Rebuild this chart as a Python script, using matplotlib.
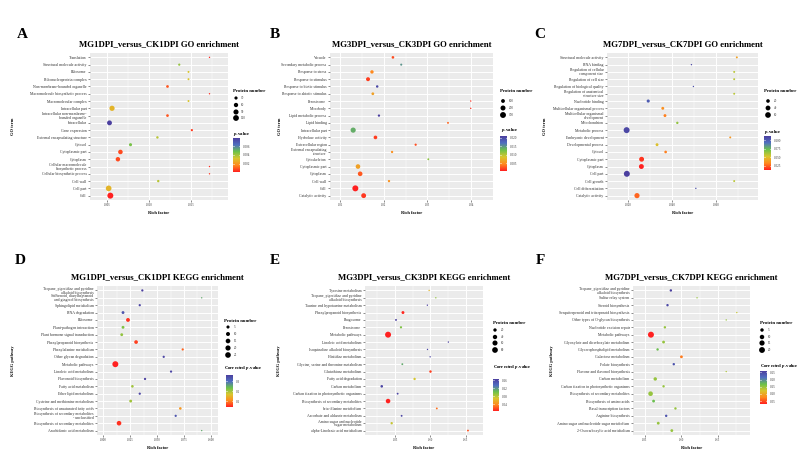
import numpy as np
import matplotlib.pyplot as plt
from matplotlib.colors import LinearSegmentedColormap, Normalize
from matplotlib.cm import ScalarMappable

plt.rcParams['font.family'] = ['Liberation Serif', 'DejaVu Serif']
plt.rcParams['mathtext.fontset'] = 'custom'
plt.rcParams['mathtext.it'] = 'Liberation Serif:italic:bold'
plt.rcParams['mathtext.rm'] = 'Liberation Serif:bold'

# ---- A: MG1DPI vs CK1DPI GO (listed top to bottom) ----
terms_a = ['Translation', 'Structural molecule activity', 'Ribosome', 'Ribonucleoprotein complex',
           'Non-membrane-bounded organelle', 'Macromolecule biosynthetic process',
           'Macromolecular complex', 'Intracellular part',
           'Intracellular non-membrane-\nbounded organelle', 'Intracellular', 'Gene expression',
           'External encapsulating structure', 'Cytosol', 'Cytoplasmic part', 'Cytoplasm',
           'Cellular macromolecule\nbiosynthetic process', 'Cellular biosynthetic process',
           'Cell wall', 'Cell part', 'Cell']
rich_a = [0.0172, 0.0136, 0.0147, 0.0147, 0.0122, 0.0172, 0.0147, 0.0056, 0.0122, 0.0053,
          0.0151, 0.0110, 0.0078, 0.0066, 0.0063, 0.0172, 0.0172, 0.0111, 0.0052, 0.0054]
count_a = [12, 16, 14, 14, 22, 12, 14, 95, 22, 80, 16, 18, 28, 68, 65, 12, 12, 18, 115, 130]
pval_a = [0.0003, 0.0042, 0.0032, 0.0032, 0.0010, 0.0004, 0.0032, 0.0028, 0.0010, 0.0078,
          0.0006, 0.0037, 0.0046, 0.0008, 0.0008, 0.0004, 0.0005, 0.0037, 0.0028, 0.0002]

# ---- B: MG3DPI vs CK3DPI GO ----
terms_b = ['Vacuole', 'Secondary metabolic process', 'Response to stress', 'Response to stimulus',
           'Response to biotic stimulus', 'Response to abiotic stimulus', 'Peroxisome',
           'Microbody', 'Lipid metabolic process', 'Lipid binding', 'Intracellular part',
           'Hydrolase activity', 'Extracellular region', 'External encapsulating\nstructure',
           'Cytoskeleton', 'Cytoplasmic part', 'Cytoplasm', 'Cell wall', 'Cell',
           'Catalytic activity']
rich_b = [0.0221, 0.0240, 0.0173, 0.0164, 0.0185, 0.0175, 0.0399, 0.0399, 0.0189, 0.0347,
          0.0130, 0.0181, 0.0273, 0.0219, 0.0302, 0.0141, 0.0146, 0.0212, 0.0135, 0.0154]
count_b = [40, 25, 75, 110, 35, 45, 18, 18, 30, 22, 220, 90, 28, 30, 22, 160, 165, 30, 310, 185]
pval_b = [0.0020, 0.0150, 0.0045, 0.0015, 0.0200, 0.0060, 0.0010, 0.0010, 0.0210, 0.0030,
          0.0138, 0.0015, 0.0020, 0.0050, 0.0115, 0.0060, 0.0025, 0.0050, 0.0003, 0.0012]

# ---- C: MG7DPI vs CK7DPI GO ----
terms_c = ['Structural molecule activity', 'RNA binding', 'Regulation of cellular\ncomponent size',
           'Regulation of cell size', 'Regulation of biological quality',
           'Regulation of anatomical\nstructure size', 'Nucleotide binding',
           'Multicellular organismal process', 'Multicellular organismal\ndevelopment',
           'Mitochondrion', 'Metabolic process', 'Embryonic development',
           'Developmental process', 'Cytosol', 'Cytoplasmic part', 'Cytoplasm', 'Cell part',
           'Cell growth', 'Cell differentiation', 'Catalytic activity']
rich_c = [0.0694, 0.0488, 0.0682, 0.0682, 0.0497, 0.0682, 0.0292, 0.0358, 0.0368, 0.0424,
          0.0194, 0.0664, 0.0332, 0.0371, 0.0262, 0.0261, 0.0195, 0.0682, 0.0508, 0.0241]
count_c = [6, 5, 6, 6, 5, 6, 14, 12, 12, 8, 68, 6, 12, 10, 42, 42, 68, 6, 5, 48]
pval_c = [0.040, 0.108, 0.058, 0.058, 0.105, 0.058, 0.100, 0.034, 0.030, 0.065,
          0.108, 0.036, 0.050, 0.030, 0.016, 0.012, 0.112, 0.058, 0.105, 0.025]

# ---- D: MG1DPI vs CK1DPI KEGG ----
terms_d = ['Tropane, piperidine and pyridine\nalkaloid biosynthesis',
           'Stilbenoid, diarylheptanoid\nand gingerol biosynthesis', 'Sphingolipid metabolism',
           'RNA degradation', 'Ribosome', 'Plant-pathogen interaction',
           'Plant hormone signal transduction', 'Phenylpropanoid biosynthesis',
           'Phenylalanine metabolism', 'Other glycan degradation', 'Metabolic pathways',
           'Linoleic acid metabolism', 'Flavonoid biosynthesis', 'Fatty acid metabolism',
           'Ether lipid metabolism', 'Cysteine and methionine metabolism',
           'Biosynthesis of unsaturated fatty acids',
           'Biosynthesis of secondary metabolites\n- unclassified',
           'Biosynthesis of secondary metabolites', 'Arachidonic acid metabolism']
rich_d = [0.0364, 0.0914, 0.0340, 0.0185, 0.0231, 0.0185, 0.0173, 0.0306, 0.0738, 0.0562,
          0.0114, 0.0630, 0.0389, 0.0272, 0.0340, 0.0256, 0.0716, 0.0673, 0.0148, 0.0914]
count_d = [2, 1, 2, 4, 9, 4, 4, 8, 2, 2, 29, 2, 2, 3, 2, 4, 3, 2, 15, 1]
pval_d = [0.36, 0.25, 0.35, 0.33, 0.05, 0.22, 0.21, 0.06, 0.08, 0.35,
          0.04, 0.35, 0.36, 0.20, 0.35, 0.20, 0.12, 0.33, 0.05, 0.25]

# ---- E: MG3DPI vs CK3DPI KEGG ----
terms_e = ['Tyrosine metabolism', 'Tropane, piperidine and pyridine\nalkaloid biosynthesis',
           'Taurine and hypotaurine metabolism', 'Phenylpropanoid biosynthesis', 'Phagosome',
           'Peroxisome', 'Metabolic pathways', 'Linoleic acid metabolism',
           'Isoquinoline alkaloid biosynthesis', 'Histidine metabolism',
           'Glycine, serine and threonine metabolism', 'Glutathione metabolism',
           'Fatty acid degradation', 'Carbon metabolism',
           'Carbon fixation in photosynthetic organisms', 'Biosynthesis of secondary metabolites',
           'beta-Alanine metabolism', 'Ascorbate and aldarate metabolism',
           'Amino sugar and nucleotide\nsugar metabolism', 'alpha-Linolenic acid metabolism']
rich_e = [0.0981, 0.1075, 0.0956, 0.0612, 0.0514, 0.0584, 0.0402, 0.1252, 0.0958, 0.0995,
          0.0603, 0.1000, 0.0776, 0.0313, 0.0537, 0.0402, 0.1089, 0.0593, 0.0453, 0.1528]
count_e = [4, 4, 4, 14, 5, 7, 90, 4, 4, 4, 5, 9, 8, 10, 5, 45, 5, 5, 8, 5]
pval_e = [0.060, 0.090, 0.165, 0.008, 0.165, 0.095, 0.005, 0.165, 0.160, 0.160,
          0.110, 0.015, 0.070, 0.160, 0.160, 0.006, 0.030, 0.160, 0.075, 0.020]

# ---- F: MG7DPI vs CK7DPI KEGG ----
terms_f = ['Tropane, piperidine and pyridine\nalkaloid biosynthesis', 'Sulfur relay system',
           'Steroid biosynthesis', 'Sesquiterpenoid and triterpenoid biosynthesis',
           'Other types of O-glycan biosynthesis', 'Nucleotide excision repair',
           'Metabolic pathways', 'Glyoxylate and dicarboxylate metabolism',
           'Glycerophospholipid metabolism', 'Galactose metabolism', 'Folate biosynthesis',
           'Flavone and flavonol biosynthesis', 'Carbon metabolism',
           'Carbon fixation in photosynthetic organisms', 'Biosynthesis of secondary metabolites',
           'Biosynthesis of amino acids', 'Basal transcription factors', 'Arginine biosynthesis',
           'Amino sugar and nucleotide sugar metabolism', '2-Oxocarboxylic acid metabolism']
rich_f = [0.0855, 0.1214, 0.0809, 0.1759, 0.1614, 0.0773, 0.0582, 0.0755, 0.0673, 0.1000,
          0.0895, 0.1614, 0.0641, 0.0755, 0.0577, 0.0618, 0.0918, 0.0791, 0.0682, 0.0868]
count_f = [2, 1, 2, 1, 1, 2, 21, 3, 2, 3, 2, 1, 5, 2, 11, 3, 2, 2, 3, 3]
pval_f = [0.26, 0.15, 0.25, 0.13, 0.15, 0.15, 0.03, 0.15, 0.17, 0.07,
          0.24, 0.14, 0.15, 0.15, 0.15, 0.17, 0.15, 0.24, 0.15, 0.15]

W, H = 800, 473
fig = plt.figure(figsize=(8, 4.73), dpi=100)
lay = fig.add_axes([0, 0, 1, 1])
lay.set_xlim(0, W)
lay.set_ylim(H, 0)
lay.axis('off')

cmap = LinearSegmentedColormap.from_list(
    'pv', ['#FF2020', '#FF8A1E', '#D8C62E', '#6CC24A', '#4F6FC0', '#4B3F9F'])
TXT = '#333333'


def box(x0, y0, x1, y1):
    return [x0 / W, 1 - y1 / H, (x1 - x0) / W, (y1 - y0) / H]


def dot_area(n, lo, hi):
    f = np.clip((np.asarray(n, float) - lo) / (hi - lo), 0, 1)
    return (1.0 + np.sqrt(f) * 3.3) ** 2


def panel(frame, terms, rich, count, pval, xlim, xticks, xlabs, title, letter, ylab,
          leg, sizes, cbar, cbticks, cblabs, cbtitle):
    x0, y0, x1, y1 = frame
    ax = fig.add_axes(box(*frame))
    ax.set_facecolor('#EBEBEB')
    for s in ax.spines.values():
        s.set_visible(False)
    n = len(terms)
    ys = np.arange(n)[::-1]
    lo, hi = min(count), max(count)
    norm = Normalize(min(pval), max(pval))
    ax.scatter(rich, ys, s=dot_area(count, lo, hi), c=pval, cmap=cmap, norm=norm,
               edgecolors='none', zorder=3)
    ax.set_xlim(*xlim)
    ax.set_ylim(-0.6, n - 0.4)
    ax.set_yticks(ys)
    ax.set_yticklabels(terms, fontsize=2.8, color=TXT, linespacing=0.85)
    ax.set_xticks(xticks)
    ax.set_xticklabels(xlabs, fontsize=2.2, color=TXT)
    step = xticks[1] - xticks[0]
    minor = [m for m in np.arange(xticks[0] - step / 2, xlim[1], step) if xlim[0] < m]
    ax.set_xticks(minor, minor=True)
    ax.tick_params(axis='both', which='major', length=1.3, width=0.4, color=TXT, pad=1.2)
    ax.tick_params(axis='x', which='minor', length=0)
    ax.grid(True, which='major', color='white', lw=0.7)
    ax.grid(True, which='minor', axis='x', color='white', lw=0.35)
    ax.set_axisbelow(True)

    cx = (x0 + x1) / 2
    lay.text(cx, y0 - 9, title, fontsize=6.3, fontweight='bold', ha='center', va='center')
    lay.text(letter[1], letter[2], letter[0], fontsize=11, fontweight='bold',
             ha='center', va='center')
    lay.text(cx, y1 + 13, 'Rich factor', fontsize=3.2, fontweight='bold', ha='center',
             va='center')
    lay.text(ylab[1], (y0 + y1) / 2, ylab[0], fontsize=3.2, fontweight='bold', rotation=90,
             ha='center', va='center')

    # size legend
    lx, ly, dx, dys, tx = leg
    lay.text(lx, ly, 'Protein number', fontsize=3.4, fontweight='bold', ha='left',
             va='center')
    lay.scatter([dx] * len(sizes), dys, s=dot_area(sizes, lo, hi), color='black',
                edgecolors='none')
    for v, yy in zip(sizes, dys):
        lay.text(tx, yy, str(v), fontsize=2.3, color=TXT, ha='left', va='center')

    # colour bar
    bx0, by0, bx1, by1, cbtx, cbty = cbar
    lay.text(cbtx, cbty, cbtitle, fontsize=3.4, fontweight='bold', ha='left', va='center')
    cax = fig.add_axes(box(bx0, by0, bx1, by1))
    cb = fig.colorbar(ScalarMappable(norm=norm, cmap=cmap), cax=cax)
    cb.outline.set_visible(False)
    cb.set_ticks(cbticks)
    cb.set_ticklabels(cblabs)
    cax.tick_params(labelsize=2.3, length=0, pad=2, labelcolor=TXT)
    for t in cbticks:
        cax.plot([0, 0.2], [t, t], color='white', lw=0.4)
        cax.plot([0.8, 1], [t, t], color='white', lw=0.4)
    return ax


pv = r'$\mathit{p}$-value'
cpv = r'Corrected $\mathit{p}$-value'

panel((90, 53, 228, 200), terms_a, rich_a, count_a, pval_a, (0.00298, 0.0194),
      [0.005, 0.010, 0.015], ['0.005', '0.010', '0.015'],
      'MG1DPI_versus_CK1DPI GO enrichment', ('A', 22, 35), ('GO term', 13),
      (233, 91, 236, [98, 105, 112, 118], 241), [30, 60, 90, 120],
      (233, 138, 240, 172, 233, 134), [0.002, 0.004, 0.006], ['0.002', '0.004', '0.006'], pv)

panel((330, 53, 493, 200), terms_b, rich_b, count_b, pval_b, (0.0077, 0.045),
      [0.01, 0.02, 0.03, 0.04], ['0.01', '0.02', '0.03', '0.04'],
      'MG3DPI_versus_CK3DPI GO enrichment', ('B', 275, 35), ('GO term', 280),
      (500, 91, 503, [101, 108, 115], 509), [100, 200, 300],
      (500, 136, 507, 171, 501, 130), [0.005, 0.010, 0.015, 0.020],
      ['0.005', '0.010', '0.015', '0.020'], pv)

panel((607, 53, 758, 200), terms_c, rich_c, count_c, pval_c, (0.0105, 0.079),
      [0.02, 0.04, 0.06], ['0.020', '0.040', '0.060'],
      'MG7DPI_versus_CK7DPI GO enrichment', ('C', 540, 35), ('GO term', 545),
      (764, 91, 768, [101, 108, 115], 774), [20, 40, 60],
      (764, 136, 771, 170, 764, 132), [0.025, 0.050, 0.075, 0.100],
      ['0.025', '0.050', '0.075', '0.100'], pv)

panel((97, 286, 218, 435), terms_d, rich_d, count_d, pval_d, (-0.0056, 0.1065),
      [0.0, 0.025, 0.05, 0.075, 0.1], ['0.000', '0.025', '0.050', '0.075', '0.100'],
      'MG1DPI_versus_CK1DPI KEGG enrichment', ('D', 20, 260), ('KEGG pathway', 13),
      (224, 321, 228, [327, 334, 341, 348, 355], 234), [5, 10, 15, 20, 25],
      (226, 375, 233, 407, 224, 368), [0.1, 0.2, 0.3], ['0.1', '0.2', '0.3'], cpv)

panel((365, 286, 483, 435), terms_e, rich_e, count_e, pval_e, (0.0077, 0.174),
      [0.05, 0.10, 0.15], ['0.05', '0.10', '0.15'],
      'MG3DPI_versus_CK3DPI KEGG enrichment', ('E', 275, 260), ('KEGG pathway', 279),
      (493, 323, 495, [330, 337, 343, 350], 501), [20, 40, 60, 80],
      (493, 379, 499, 411, 493, 367), [0.04, 0.08, 0.12, 0.16],
      ['0.04', '0.08', '0.12', '0.16'], cpv)

panel((633, 286, 750, 435), terms_f, rich_f, count_f, pval_f, (0.0336, 0.194),
      [0.05, 0.10, 0.15], ['0.05', '0.10', '0.15'],
      'MG7DPI_versus_CK7DPI KEGG enrichment', ('F', 540, 260), ('KEGG pathway', 552),
      (760, 323, 762, [330, 337, 343, 350], 768), [5, 10, 15, 20],
      (760, 371, 767, 404, 760, 366), [0.05, 0.10, 0.15, 0.20, 0.25],
      ['0.05', '0.10', '0.15', '0.20', '0.25'], cpv)

fig.savefig('out.png', dpi=100)
